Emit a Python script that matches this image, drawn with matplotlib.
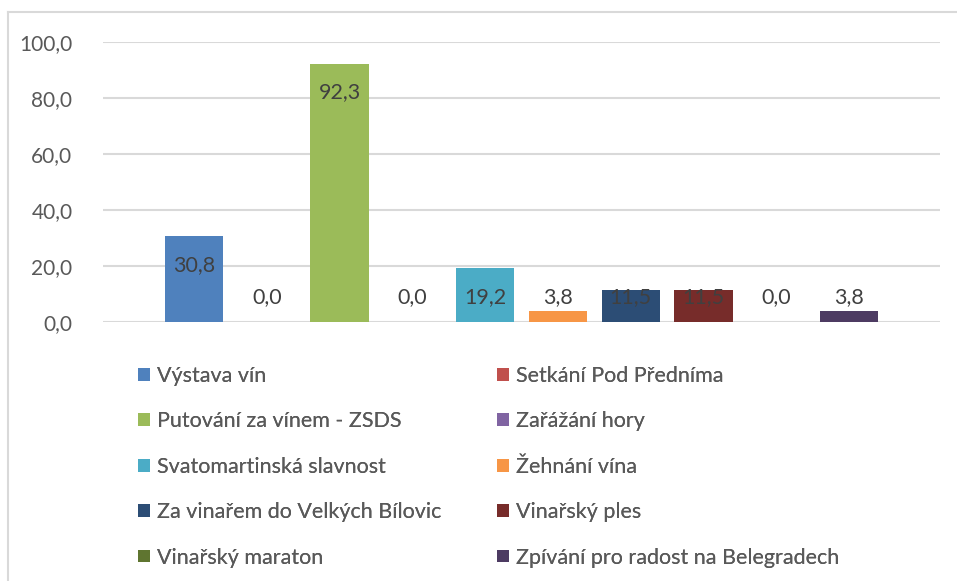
import matplotlib
matplotlib.use("Agg")
import matplotlib.pyplot as plt
from matplotlib.lines import Line2D
from matplotlib.patches import Patch

plt.rcParams['font.family'] = ['Lato', 'DejaVu Sans']

categories = ["Výstava vín", "Setkání Pod Předníma", "Putování za vínem - ZSDS",
              "Zařážání hory", "Svatomartinská slavnost", "Žehnání vína",
              "Za vinařem do Velkých Bílovic", "Vinařský ples", "Vinařský maraton",
              "Zpívání pro radost na Belegradech"]
values = [30.8, 0.0, 92.3, 0.0, 19.2, 3.8, 11.5, 11.5, 0.0, 3.8]
colors = ["#4F81BD", "#C0504D", "#9BBB59", "#8064A2", "#4BACC6",
          "#F79646", "#2C4D75", "#772C2A", "#5F7530", "#4D3B62"]
yticks = [0, 20, 40, 60, 80, 100]
ytick_labels = ["0,0", "20,0", "40,0", "60,0", "80,0", "100,0"]

W, H = 957, 581
fig = plt.figure(figsize=(W / 100, H / 100), dpi=100)
ax = fig.add_axes([103 / W, 1 - 322 / H, (940 - 103) / W, (322 - 42) / H])

x = list(range(len(values)))
ax.bar(x, values, width=0.8, color=colors, zorder=3)
ax.set_xlim(-1.25, len(values) - 1 + 1.25)
ax.set_ylim(0, 100)
ax.set_yticks(yticks)
ax.set_yticklabels(ytick_labels, fontsize=15, color="#595959")
ax.set_xticks([])
ax.tick_params(axis='y', length=0, pad=22)
ax.grid(axis='y', color="#D9D9D9", linewidth=1.5, zorder=0)
for s in ax.spines.values():
    s.set_visible(False)

for xi, v in zip(x, values):
    yv = max(v, 19.2)
    ax.annotate(f"{v:.1f}".replace(".", ","), xy=(xi, yv), xytext=(0, -29),
                textcoords="offset pixels", ha="center", va="center",
                fontsize=15.5, color="#404040", zorder=4)

# chart frame (left and top edges)
fig.add_artist(Line2D([8 / W, 8 / W], [0, 1 - 12 / H], transform=fig.transFigure,
                      color="#D9D9D9", linewidth=1.5))
fig.add_artist(Line2D([8 / W, 1], [1 - 12 / H, 1 - 12 / H], transform=fig.transFigure,
                      color="#D9D9D9", linewidth=1.5))

handles = [Patch(facecolor=c, edgecolor="none") for c in colors]
for col, x0 in ((0, 138), (1, 497)):
    idx = list(range(col, len(categories), 2))
    leg = fig.legend([handles[i] for i in idx], [categories[i] for i in idx],
                     ncol=1, loc="upper left",
                     bbox_to_anchor=(x0 / W, 1 - 366 / H), frameon=False,
                     fontsize=15.5, handlelength=0.55, handleheight=0.55,
                     handletextpad=0.35, labelspacing=1.18, borderaxespad=0,
                     borderpad=0)
    for t in leg.get_texts():
        t.set_color("#595959")
    fig.add_artist(leg)

fig.savefig("out.png", dpi=100)
